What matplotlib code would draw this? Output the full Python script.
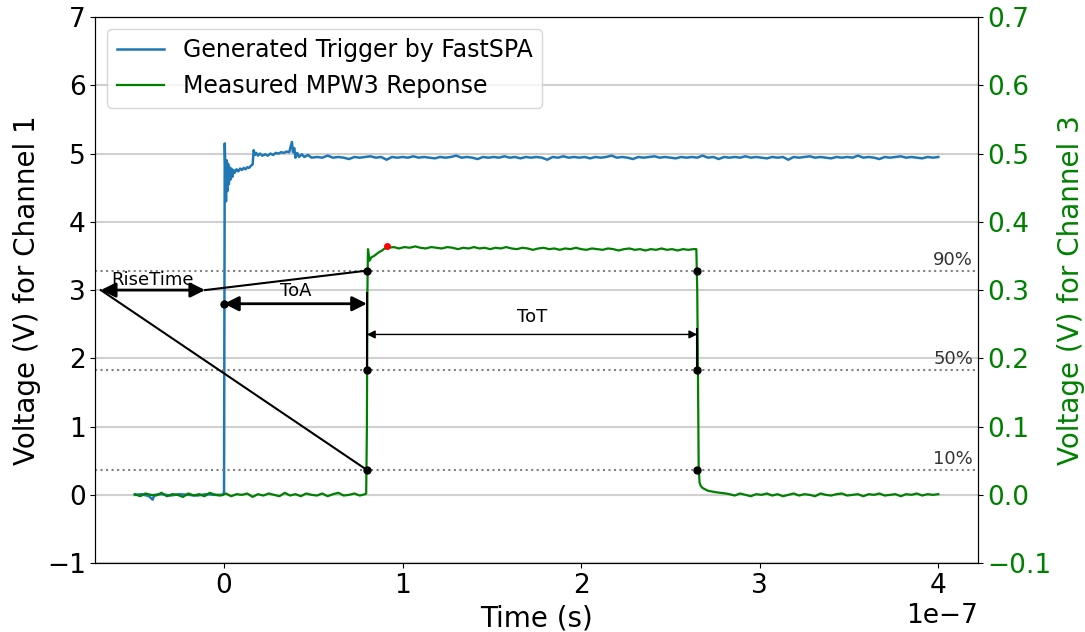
import numpy as np
import matplotlib
matplotlib.use("Agg")
from matplotlib import pyplot as plt

# ---- data (time in ns) ----
# channel 1: trigger generated by FastSPA (V)
trig_t_head = [-50, -46, -42, -40, -39, -35, -30, -25, -20, -15, -10, -5, -0.5, 0.0,
               0.4, 0.8, 1.1, 1.5, 1.9, 2.3, 2.7, 3.1, 3.6, 4.1, 4.7, 5.3, 6, 7, 8, 9,
               10, 11, 12, 13, 14, 15, 16, 16.6, 17.3, 18, 19, 20, 21.5, 23, 24.5, 26,
               27.5, 29, 30.5, 32, 33.5, 35, 36.5, 37.3, 38, 38.6, 39.3, 40, 41, 42,
               43.5, 45, 47, 49]
trig_v_head = [0.00, 0.01, -0.02, -0.07, 0.00, 0.01, -0.01, 0.01, 0.00, -0.01, 0.01, 0.00, 0.00, 0.05,
               5.15, 4.70, 4.30, 4.90, 4.45, 4.85, 4.55, 4.80, 4.62, 4.78, 4.66, 4.76, 4.72, 4.77, 4.74, 4.78,
               4.76, 4.79, 4.77, 4.80, 4.79, 4.82, 4.84, 5.05, 4.98, 5.01, 4.97, 5.00, 4.97, 4.99, 4.97, 5.00,
               4.98, 5.01, 5.00, 5.02, 5.01, 5.03, 5.02, 5.10, 5.17, 5.02, 5.08, 4.94, 5.01, 4.95,
               4.99, 4.95, 4.98, 4.94]
trig_t_tail = np.arange(52, 401, 3)  # scope sample grid
trig_v_tail = [4.95, 4.94, 4.97, 4.94, 4.95, 4.94, 4.92, 4.95, 4.94, 4.95,
               4.96, 4.94, 4.95, 4.91, 4.95, 4.94, 4.95, 4.94, 4.96, 4.94,
               4.95, 4.94, 4.93, 4.95, 4.94, 4.95, 4.97, 4.94, 4.95, 4.94,
               4.92, 4.95, 4.94, 4.95, 4.94, 4.96, 4.94, 4.95, 4.93, 4.95,
               4.94, 4.95, 4.94, 4.91, 4.95, 4.94, 4.96, 4.94, 4.95, 4.94,
               4.95, 4.93, 4.95, 4.94, 4.95, 4.97, 4.94, 4.95, 4.94, 4.92,
               4.95, 4.94, 4.95, 4.96, 4.94, 4.95, 4.94, 4.93, 4.95, 4.94,
               4.95, 4.94, 4.97, 4.94, 4.95, 4.92, 4.95, 4.94, 4.95, 4.94,
               4.96, 4.94, 4.95, 4.94, 4.93, 4.95, 4.94, 4.95, 4.91, 4.95,
               4.94, 4.95, 4.96, 4.94, 4.95, 4.94, 4.93, 4.95, 4.94, 4.95,
               4.94, 4.97, 4.94, 4.95, 4.94, 4.92, 4.95, 4.94, 4.95, 4.96,
               4.94, 4.95, 4.94, 4.93, 4.95, 4.94, 4.95]

# channel 3: measured MPW3 response (V)
resp_t_base = np.arange(-50, 80, 3)
resp_v_base = [0.001, -0.002, 0.002, 0.000, -0.001, 0.003, -0.002, 0.001, 0.000, -0.003,
               0.002, -0.001, 0.001, -0.002, 0.003, 0.000, -0.001, 0.002, -0.002, 0.001,
               0.000, 0.002, -0.003, 0.001, -0.001, 0.002, 0.000, -0.002, 0.003, -0.001,
               0.001, -0.002, 0.002, 0.000, -0.001, 0.002, -0.002, 0.001, 0.003, -0.001,
               0.000, 0.002, -0.001, 0.001]
resp_t_rise = [79.6, 80.0, 80.3, 80.6, 81.0, 81.5, 82.5, 84, 85.5, 87, 88.5, 90]
resp_v_rise = [0.002, 0.10, 0.30, 0.360, 0.352, 0.343, 0.348, 0.350, 0.353, 0.356, 0.358, 0.361]
resp_t_top = np.arange(92, 264, 3)
resp_v_top = [0.362, 0.363, 0.361, 0.363, 0.362, 0.364, 0.362, 0.361, 0.363, 0.362,
              0.361, 0.363, 0.362, 0.360, 0.362, 0.361, 0.363, 0.361, 0.362, 0.360,
              0.362, 0.361, 0.363, 0.361, 0.360, 0.362, 0.361, 0.359, 0.361, 0.362,
              0.360, 0.361, 0.359, 0.361, 0.360, 0.362, 0.360, 0.359, 0.361, 0.360,
              0.359, 0.361, 0.360, 0.358, 0.360, 0.361, 0.359, 0.360, 0.358, 0.360,
              0.359, 0.361, 0.359, 0.360, 0.358, 0.360, 0.359, 0.360]
resp_t_fall = [264.5, 265.0, 265.4, 265.8, 266.3, 267, 268, 269.5, 271, 273, 275, 278, 281]
resp_v_fall = [0.360, 0.30, 0.18, 0.04, 0.018, 0.013, 0.010, 0.008, 0.006, 0.005, 0.004, 0.003, 0.002]
resp_t_tail = np.arange(283, 401, 3)
resp_v_tail = [0.001, -0.001, 0.002, 0.000, -0.002, 0.001, 0.000, 0.002, -0.001, 0.001,
               -0.002, 0.000, 0.002, -0.001, 0.001, 0.000, -0.002, 0.002, 0.000, -0.001,
               0.001, 0.002, -0.001, 0.000, 0.001, -0.002, 0.001, 0.000, 0.002, -0.001,
               0.000, 0.001, -0.002, 0.001, 0.000, 0.002, -0.001, 0.001, 0.000, 0.001]

peak_t, peak_v = 91, 0.365          # max of the response (red dot)
pct = [10, 50, 90]
t_rise_cross = 80                   # crossing time of leading edge
t_fall_cross = 265                  # crossing time of trailing edge
toa_y, rise_y, tot_y = 0.28, 0.30, 0.235
rise_x0, rise_x1 = -69, -10.6

ns = 1e-9
trig_t = np.concatenate([trig_t_head, trig_t_tail]) * ns
trig_v = np.concatenate([trig_v_head, trig_v_tail])
resp_t = np.concatenate([resp_t_base, resp_t_rise, resp_t_top, resp_t_fall, resp_t_tail]) * ns
resp_v = np.concatenate([resp_v_base, resp_v_rise, resp_v_top, resp_v_fall, resp_v_tail])
levels = [p / 100 * peak_v for p in pct]

fig, ax1 = plt.subplots(figsize=(10.85, 6.32), dpi=100)
fig.subplots_adjust(left=0.088, right=0.901, bottom=0.109, top=0.973)
ax2 = ax1.twinx()

l1, = ax1.plot(trig_t, trig_v, color='tab:blue', lw=1.8, label='Generated Trigger by FastSPA')
ax1.grid(axis='y', color='#d0d0d0', lw=1.5)
ax1.set_axisbelow(True)
ax1.set_ylim(-1, 7)
ax1.set_xlim(-0.72e-7, 4.22e-7)

l2, = ax2.plot(resp_t, resp_v, color='green', lw=1.6, label='Measured MPW3 Reponse')
ax2.set_ylim(-0.1, 0.7)
ax2.plot(peak_t * ns, peak_v, 'r.', ms=8)

# threshold lines and crossing points
for p, lv in zip(pct, levels):
    ax2.axhline(lv, color='grey', ls=':', lw=1.5)
    ax2.text(0.995, lv + 0.003, '%d%%' % p, transform=ax2.get_yaxis_transform(),
             ha='right', va='bottom', fontsize=13, color='#333333')
    ax2.plot([t_rise_cross * ns, t_fall_cross * ns], [lv, lv], 'ko', ms=5)

ax2.plot([t_rise_cross * ns] * 2, [levels[1], 0.296], 'k-', lw=1.5)
ax2.plot([t_fall_cross * ns] * 2, [levels[1], 0.243], 'k-', lw=1.5)

# ToA
ax2.plot(0, toa_y, 'ko', ms=5)
ax2.annotate('', xy=(t_rise_cross * ns, toa_y), xytext=(0, toa_y),
             arrowprops=dict(arrowstyle='<|-|>', color='k', lw=2, mutation_scale=22, shrinkA=0, shrinkB=0))
ax2.text(t_rise_cross / 2 * ns, toa_y + 0.006, 'ToA', ha='center', va='bottom', fontsize=13)

# ToT
ax2.annotate('', xy=(t_fall_cross * ns, tot_y), xytext=(t_rise_cross * ns, tot_y),
             arrowprops=dict(arrowstyle='<|-|>', color='k', lw=1, mutation_scale=12, shrinkA=0, shrinkB=0))
ax2.text((t_rise_cross + t_fall_cross) / 2 * ns, tot_y + 0.012, 'ToT', ha='center', va='bottom', fontsize=13)

# RiseTime
ax2.annotate('', xy=(rise_x1 * ns, rise_y), xytext=(rise_x0 * ns, rise_y),
             arrowprops=dict(arrowstyle='<|-|>', color='k', lw=2, mutation_scale=22, shrinkA=0, shrinkB=0))
ax2.text((rise_x0 + rise_x1) / 2 * ns, rise_y + 0.001, 'RiseTime', ha='center', va='bottom', fontsize=13)
ax2.plot([rise_x1 * ns, t_rise_cross * ns], [rise_y, levels[2]], 'k-', lw=1.5)
ax2.plot([rise_x0 * ns, t_rise_cross * ns], [rise_y, levels[0]], 'k-', lw=1.5)

ax1.set_xlabel('Time (s)', fontsize=20)
ax1.set_ylabel('Voltage (V) for Channel 1', fontsize=20)
ax2.set_ylabel('Voltage (V) for Channel 3', fontsize=20, color='green')
ax1.tick_params(labelsize=19)
ax2.tick_params(labelsize=19, labelcolor='green')
ax1.xaxis.get_offset_text().set_fontsize(19)

ax2.legend([l1, l2], [l1.get_label(), l2.get_label()], loc='upper left', fontsize=17)

plt.savefig('out.png')
